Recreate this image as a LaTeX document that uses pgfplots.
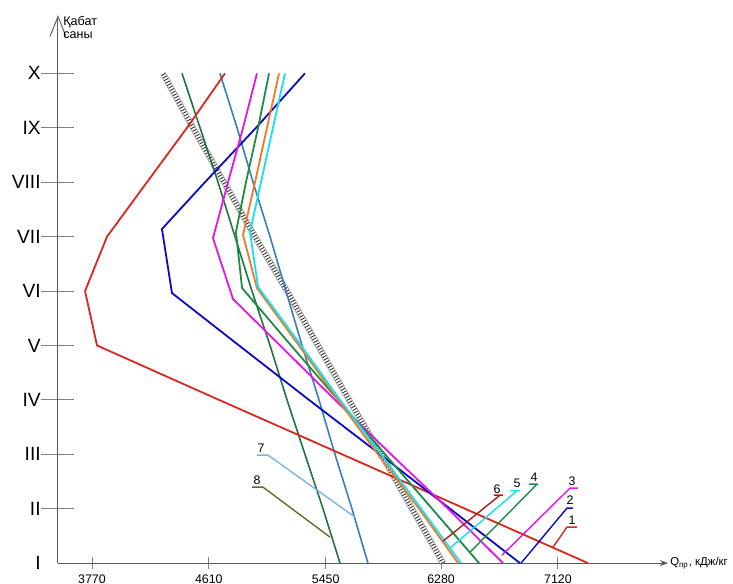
\documentclass[border=0pt]{standalone}
\usepackage{fontspec}
\setmainfont{Liberation Sans}
\usepackage{pgfplots}
\pgfplotsset{compat=1.18}
\usetikzlibrary{arrows.meta}
\definecolor{cRed}{RGB}{220,38,30}
\definecolor{cBlue}{RGB}{10,10,200}
\definecolor{cMag}{RGB}{230,20,230}
\definecolor{cGreen}{RGB}{30,140,70}
\definecolor{cCyan}{RGB}{20,225,240}
\definecolor{cOrange}{RGB}{240,120,40}
\definecolor{cBrown}{RGB}{160,35,25}
\definecolor{cSteel}{RGB}{60,125,185}
\definecolor{cLight}{RGB}{130,180,220}
\definecolor{cDkGreen}{RGB}{35,115,60}
\definecolor{cOlive}{RGB}{105,105,45}
\definecolor{axgray}{RGB}{90,90,90}
\begin{document}
\begin{tikzpicture}
\begin{axis}[
  scale only axis, width=305pt, height=274pt,
  xmin=3525.5, xmax=7911, ymin=1, ymax=11.07,
  axis x line=bottom, axis y line=left,
  x axis line style={axgray, line width=0.5pt, -{Stealth[length=4pt,width=3pt]}},
  y axis line style={axgray, line width=0.5pt, -{Straight Barb[length=10pt,width=8pt]}},
  clip=false,
  xtick={3770,4610,5450,6280,7120},
  ytick={2,...,10},
  yticklabels={II,III,IV,V,VI,VII,VIII,IX,X},
  extra y ticks={1}, extra y tick labels={I},
  extra y tick style={ytick style={draw=none}},
  tick align=center,
  xtick style={gray, line width=0.5pt, /pgfplots/major tick length=6pt},
  ytick style={gray, line width=0.5pt, /pgfplots/major tick length=16.5pt},
  x tick label style={font=\fontsize{6.2}{7}\selectfont},
  y tick label style={font=\fontsize{9.6}{10}\selectfont, xshift=-3pt},
  /pgf/number format/assume math mode=true,
  /pgf/number format/1000 sep={},
]
% hatched band
\addplot[gray!75, line width=3pt] coordinates {(6294,1)(6071,2)(5848,3)(5618,4)(5395,5)(5172,6)(4942,7)(4719,8)(4496,9)(4280,10)};
\addplot[white, line width=2.2pt] coordinates {(6294,1)(6071,2)(5848,3)(5618,4)(5395,5)(5172,6)(4942,7)(4719,8)(4496,9)(4280,10)};
\addplot[black!80, line width=2.2pt, dash pattern=on 0.45pt off 1pt] coordinates {(6294,1)(6071,2)(5848,3)(5618,4)(5395,5)(5172,6)(4942,7)(4719,8)(4496,9)(4280,10)};
% series 8 (dark green) and 7 (steel blue)
\addplot[cDkGreen, line width=0.8pt] coordinates {(5553,1)(5431,2)(5301,3)(5172,4)(5050,5)(4920,6)(4798,7)(4676,8)(4547,9)(4417,10)};
\addplot[cSteel, line width=0.8pt] coordinates {(5754,1)(5639,2)(5517,3)(5402,4)(5280,5)(5165,6)(5050,7)(4928,8)(4813,9)(4690,10)};
% series 1..6
\addplot[cRed, line width=0.9pt] coordinates {(7336,1)(6452,2)(5568,3)(4683,4)(3806,5)(3720,6)(3878,7)(4165,8)(4453,9)(4726,10)};
\addplot[cBlue, line width=0.9pt] coordinates {(6847,1)(6344,2)(5841,3)(5330,4)(4827,5)(4345,5.963)(4273,7.14)(4582,8)(4949,9)(5301,10)};
\addplot[cMag, line width=0.9pt] coordinates {(6725,1)(6330,2)(5920,3)(5517,4)(5122,5)(4784,5.853)(4640,6.974)(4748,8)(4856,9)(4956,10)};
\addplot[cGreen, line width=0.9pt] coordinates {(6553,1)(6215,2)(5877,3)(5539,4)(5201,5)(4849,6.055)(4805,7.085)(4877,8)(4964,9)(5043,10)};
\addplot[cOrange, line width=0.9pt] coordinates {(6402,1)(6121,2)(5826,3)(5539,4)(5258,5)(4956,6.055)(4856,7.03)(4942,8)(5028,9)(5115,10)};
\addplot[cCyan, line width=0.9pt] coordinates {(6423,1)(6136,2)(5848,3)(5553,4)(5273,5)(4964,6.074)(4906,7.085)(4985,8)(5071,9)(5158,10)};
% leaders
\addplot[cRed, line width=0.7pt] coordinates {(7085,1.294)(7185,1.662)(7257,1.662)};
\addplot[cBlue, line width=0.7pt] coordinates {(6855,1)(7185,2.011)(7228,2.011)};
\addplot[cMag, line width=0.7pt] coordinates {(6718,1.147)(7207,2.379)(7264,2.379)};
\addplot[cGreen, line width=0.7pt] coordinates {(6488,1.202)(6970,2.452)(6977,2.452)(6912,2.452)};
\addplot[cCyan, line width=0.7pt] coordinates {(6344,1.276)(6826,2.33)(6847,2.33)(6776,2.33)};
\addplot[cBrown, line width=0.7pt] coordinates {(6294,1.404)(6704,2.25)(6725,2.25)(6660,2.25)};
\addplot[cLight, line width=0.7pt] coordinates {(4956,2.985)(5035,2.985)(5661,1.846)};
\addplot[cOlive, line width=0.7pt] coordinates {(4920,2.397)(4999,2.397)(5481,1.478)};
% labels
\begin{scope}[every node/.style={font=\fontsize{6.2}{7}\selectfont, inner sep=0pt}]
\node at (axis cs:7221,1.790) {1};
\node at (axis cs:7207,2.158) {2};
\node at (axis cs:7221,2.507) {3};
\node at (axis cs:6948,2.581) {4};
\node at (axis cs:6826,2.471) {5};
\node at (axis cs:6682,2.360) {6};
\node at (axis cs:4985,3.114) {7};
\node at (axis cs:4956,2.526) {8};
\end{scope}
\node[anchor=north west, align=left, inner sep=0pt, font=\fontsize{6.3}{6.6}\selectfont] at (axis cs:3561,11.06) {Қабат\\саны};
\node[anchor=west, inner sep=0pt, font=\fontsize{5.7}{7}\selectfont] at (axis cs:7925,1) {Q\textsubscript{пр}, кДж/кг};
\coordinate (BL) at (axis cs:3108.5,0.632);
\coordinate (TR) at (axis cs:8378.8,11.349);
\end{axis}
\pgfresetboundingbox
\path (BL) rectangle (TR);
\end{tikzpicture}
\end{document}
